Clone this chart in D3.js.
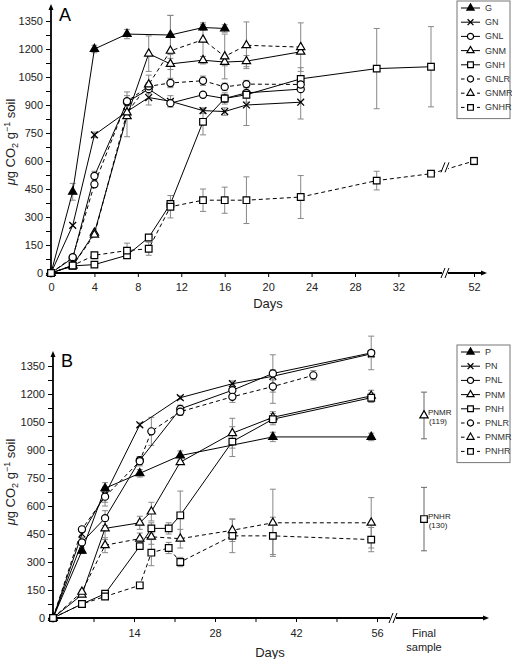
<!DOCTYPE html>
<html><head><meta charset="utf-8">
<script src="https://cdn.jsdelivr.net/npm/d3@7"></script>
<style>body{margin:0;background:#fff}svg{display:block;font-family:"Liberation Sans",Arial,sans-serif}</style>
</head><body><svg id="c" width="512" height="659"></svg>
<script>
// ---------- DATA: panel A ----------
const daysA = [0,2,4,7,9,11,14,16,18,23,30,35,52];
const xTicksA = [0,4,8,12,16,20,24,28,32,52];
const yTicks = [0,150,300,450,600,750,900,1050,1200,1350];
const namesA = ["G","GN","GNL","GNM","GNH","GNLR","GNMR","GNHR"];
const G    = [0,435,1200,1280,null,1275,1315,1310,null,null,null,null,null];
const GN   = [0,255,740,865,940,920,870,865,900,915,null,null,null];
const GNL  = [0,80,520,915,985,910,955,935,965,985,null,null,null];
const GNM  = [0,40,215,840,1175,1120,1140,1130,1135,1185,null,null,null];
const GNH  = [0,38,45,95,190,370,810,935,955,1040,1095,1105,null];
const GNLR = [0,85,475,920,1000,1018,1030,997,1012,1010,null,null,null];
const GNMR = [0,40,205,860,1010,1190,1250,1160,1220,1210,null,null,null];
const GNHR = [0,40,95,120,130,355,390,390,390,407,495,532,600];
const G_err    = [0,45,20,25,0,105,15,20,0,0,0,0,0];
const GN_err   = [0,0,15,0,40,30,15,20,110,90,0,0,0];
const GNL_err  = [0,0,25,55,0,20,0,20,0,0,0,0,0];
const GNM_err  = [0,0,0,110,95,30,20,20,30,0,0,0,0];
const GNH_err  = [0,0,0,0,0,0,70,30,40,60,215,215,0];
const GNLR_err = [0,0,0,0,20,25,25,20,20,0,0,0,0];
const GNMR_err = [0,0,0,0,50,190,90,120,125,130,0,0,0];
const GNHR_err = [0,0,15,40,35,60,60,70,125,115,50,0,20];

// ---------- DATA: panel B ----------
const daysB = [0,5,9,15,17,20,22,31,38,45,55];
const xTicksB = [7,14,21,28,35,42,49,56];
const namesB = ["P","PN","PNL","PNM","PNH","PNLR","PNMR","PNHR"];
const P    = [0,360,695,775,null,null,870,null,970,null,970];
const PN   = [0,450,660,1035,null,null,1180,1255,1295,null,1415];
const PNL  = [0,405,535,845,null,null,1120,1220,1310,null,1420];
const PNM  = [0,125,480,510,570,null,835,990,1075,null,1190];
const PNH  = [0,75,130,385,480,480,550,945,1065,null,1180];
const PNLR = [0,475,650,840,1000,null,1105,1185,1240,1300,null];
const PNMR = [0,140,390,425,435,null,425,470,510,null,510];
const PNHR = [0,75,115,175,350,375,300,440,440,null,420];
const P_err    = [0,15,30,20,0,0,25,0,25,0,20];
const PN_err   = [0,20,40,10,0,0,10,15,20,0,20];
const PNL_err  = [0,15,40,20,0,0,20,30,100,0,90];
const PNM_err  = [0,10,60,35,50,0,0,80,30,0,30];
const PNH_err  = [0,5,10,15,30,30,130,80,30,0,25];
const PNLR_err = [0,15,50,25,75,0,20,30,90,25,0];
const PNMR_err = [0,10,40,30,40,0,50,60,180,0,135];
const PNHR_err = [0,10,15,15,70,30,25,90,100,0,65];
const finalLabel = "Final sample";
const finalNames = ["PNMR","PNHR"];
const finalVals = [1085,530];
const finalErr = [125,170];
const finalN = ["(119)","(130)"];

// ---------- styles ----------
const markerKind = ["triF","cross","circle","tri","square","circle","tri","square"];
const dashed = [false,false,false,false,false,true,true,true];

const svg = d3.select("#c");
function symPath(kind, k){
  k = k || 1;
  if(kind==="triF"||kind==="tri") return d3.symbol(d3.symbolTriangle, 30*k)();
  if(kind==="square") return d3.symbol(d3.symbolSquare, 44*k)();
  if(kind==="circle") return d3.symbol(d3.symbolCircle, 40*k)();
  return d3.symbol(d3.symbolTimes || d3.symbolX, 32*k)();
}
function drawMarker(g,kind,x,y,k){
  g.append("path").attr("d",symPath(kind,k)).attr("transform",`translate(${x},${y})`)
   .attr("fill", kind==="triF" ? "#000" : (kind==="cross"?"none":"#fff"))
   .attr("stroke","#000").attr("stroke-width", kind==="cross"?1.3:1.2);
}

function panel(opt){
  const {x,y,days,series,errs,names,x0,xEnd,yTop,letter,letterY,xTicks,xLabelFn,tickPad} = opt;
  const g = svg.append("g");
  const yAx = d3.axisLeft(y).tickValues(d3.range(0,1351,75)).tickSize(5).tickPadding(3)
     .tickFormat(d=> d%150===0 ? d : "");
  const ya = g.append("g").attr("transform",`translate(${x0},0)`).call(yAx);
  ya.select(".domain").remove();
  ya.selectAll("text").attr("font-size",11).attr("fill","#222");
  ya.selectAll("line").attr("stroke","#000");
  const xAx = d3.axisBottom(x).tickValues(xTicks).tickSize(4).tickPadding(tickPad).tickFormat(xLabelFn);
  const xa = g.append("g").attr("transform",`translate(0,${y(0)})`).call(xAx);
  xa.select(".domain").remove();
  xa.selectAll("text").attr("font-size",11).attr("fill","#222");
  xa.selectAll("line").attr("stroke","#000");
  g.append("line").attr("x1",x0).attr("x2",x0).attr("y1",y(0)).attr("y2",yTop+4).attr("stroke","#000").attr("stroke-width",1.8);
  g.append("path").attr("d",`M${x0-2.5},${yTop+6}L${x0},${yTop}L${x0+2.5},${yTop+6}Z`).attr("fill","#000");
  g.append("line").attr("x1",x0).attr("x2",xEnd-4).attr("y1",y(0)).attr("y2",y(0)).attr("stroke","#000").attr("stroke-width",1.8);
  g.append("path").attr("d",`M${xEnd-6},${y(0)-2.5}L${xEnd},${y(0)}L${xEnd-6},${y(0)+2.5}Z`).attr("fill","#000");
  g.append("text").attr("x",x0+8).attr("y",letterY).attr("font-size",18).text(letter);
  const eg = g.append("g").attr("stroke","#888").attr("stroke-width",1);
  series.forEach((s,i)=>{
    s.forEach((v,j)=>{
      const e = errs[i][j];
      if(v==null || !e) return;
      const px = x(days[j]);
      eg.append("line").attr("x1",px).attr("x2",px).attr("y1",y(v-e)).attr("y2",y(v+e));
      [v-e,v+e].forEach(w=> eg.append("line").attr("x1",px-3).attr("x2",px+3).attr("y1",y(w)).attr("y2",y(w)));
    });
  });
  series.forEach((s,i)=>{
    const pts = s.map((v,j)=>[days[j],v]).filter(p=>p[1]!=null);
    g.append("path").attr("d", d3.line().x(p=>x(p[0])).y(p=>y(p[1]))(pts))
      .attr("fill","none").attr("stroke","#000").attr("stroke-width",1)
      .attr("stroke-dasharray", dashed[i] ? "4,3" : null);
  });
  const mg = g.append("g");
  series.forEach((s,i)=>{
    s.forEach((v,j)=>{ if(v!=null) drawMarker(mg, markerKind[i], x(days[j]), y(v)); });
  });
  return g;
}
function breakMark(g,bx,by){
  g.append("rect").attr("x",bx-3).attr("y",by-3).attr("width",6).attr("height",6).attr("fill","#fff");
  [-2,2].forEach(o=> g.append("line").attr("x1",bx+o-2).attr("y1",by+5).attr("x2",bx+o+2).attr("y2",by-5)
      .attr("stroke","#000").attr("stroke-width",1));
}
function legend(x0,y0,names,step){
  const g = svg.append("g");
  g.append("rect").attr("x",x0).attr("y",y0).attr("width",53).attr("height",step*8+4)
    .attr("fill","#fff").attr("stroke","#777").attr("stroke-width",1);
  names.forEach((n,i)=>{
    const yy = y0+7+i*step;
    g.append("line").attr("x1",x0+4).attr("x2",x0+23).attr("y1",yy).attr("y2",yy)
      .attr("stroke","#000").attr("stroke-width",1).attr("stroke-dasharray", dashed[i]?"3.5,4.5":null);
    drawMarker(g, markerKind[i], x0+13.5, yy, 0.75);
    g.append("text").attr("x",x0+28).attr("y",yy+3).attr("font-size",9).attr("fill","#333").text(n);
  });
}
function yTitle(cx,cy){
  const t = svg.append("text").attr("transform",`translate(${cx},${cy}) rotate(-90)`)
    .attr("text-anchor","middle").attr("font-size",13).attr("fill","#222");
  t.append("tspan").attr("font-style","italic").text("μ");
  t.append("tspan").text("g CO");
  t.append("tspan").attr("font-size",9).attr("dy",3).text("2");
  t.append("tspan").attr("dy",-3).text(" g");
  t.append("tspan").attr("font-size",9).attr("dy",-5).text("−1");
  t.append("tspan").attr("dy",5).text(" soil");
}

// ---------- Panel A ----------
const xA = d3.scaleLinear().domain([0,35,52]).range([51,431,474]);
const yA = d3.scaleLinear().domain([0,1350]).range([273,21]);
const gA = panel({x:xA,y:yA,days:daysA,
  series:[G,GN,GNL,GNM,GNH,GNLR,GNMR,GNHR],
  errs:[G_err,GN_err,GNL_err,GNM_err,GNH_err,GNLR_err,GNMR_err,GNHR_err],
  names:namesA,x0:51,xEnd:487,yTop:4,letter:"A",letterY:21,xTicks:xTicksA,xLabelFn:d=>d,tickPad:6});
breakMark(gA,445,yA(0));
breakMark(gA,445,yA(566));
gA.append("text").attr("x",268).attr("y",308).attr("text-anchor","middle").attr("font-size",13).attr("fill","#222").text("Days");
yTitle(15,142);
legend(457,1,namesA,14.2);

// ---------- Panel B ----------
const xB = d3.scaleLinear().domain([0,56]).range([53,377]);
const xFinal = d3.scaleOrdinal().domain([finalLabel]).range([424]);
const yB = d3.scaleLinear().domain([0,1350]).range([618,366]);
const gB = panel({x:xB,y:yB,days:daysB,
  series:[P,PN,PNL,PNM,PNH,PNLR,PNMR,PNHR],
  errs:[P_err,PN_err,PNL_err,PNM_err,PNH_err,PNLR_err,PNMR_err,PNHR_err],
  names:namesB,x0:53,xEnd:489,yTop:351,letter:"B",letterY:367,xTicks:xTicksB,xLabelFn:d=> d%14===0?d:"",tickPad:7});
breakMark(gB,393,yB(0));
const fx = xFinal(finalLabel);
finalNames.forEach((n,i)=>{
  const v = finalVals[i], e = finalErr[i];
  gB.append("line").attr("x1",fx).attr("x2",fx).attr("y1",yB(v-e)).attr("y2",yB(v+e)).attr("stroke","#666");
  [v-e,v+e].forEach(w=> gB.append("line").attr("x1",fx-3).attr("x2",fx+3).attr("y1",yB(w)).attr("y2",yB(w)).attr("stroke","#666"));
  drawMarker(gB, markerKind[namesB.indexOf(n)], fx, yB(v));
  gB.append("text").attr("x",fx+4).attr("y",yB(v)).attr("font-size",8).attr("fill","#222").text(n);
  gB.append("text").attr("x",fx+14).attr("y",yB(v)+9).attr("text-anchor","middle").attr("font-size",8).attr("fill","#222").text(finalN[i]);
});
gB.append("text").attr("x",fx).attr("y",637).attr("text-anchor","middle").attr("font-size",11).attr("fill","#222").text("Final");
gB.append("text").attr("x",fx).attr("y",651).attr("text-anchor","middle").attr("font-size",11).attr("fill","#222").text("sample");
gB.append("text").attr("x",270).attr("y",657).attr("text-anchor","middle").attr("font-size",13).attr("fill","#222").text("Days");
yTitle(15,482);
legend(457,345,namesB,14.2);
</script></body></html>
